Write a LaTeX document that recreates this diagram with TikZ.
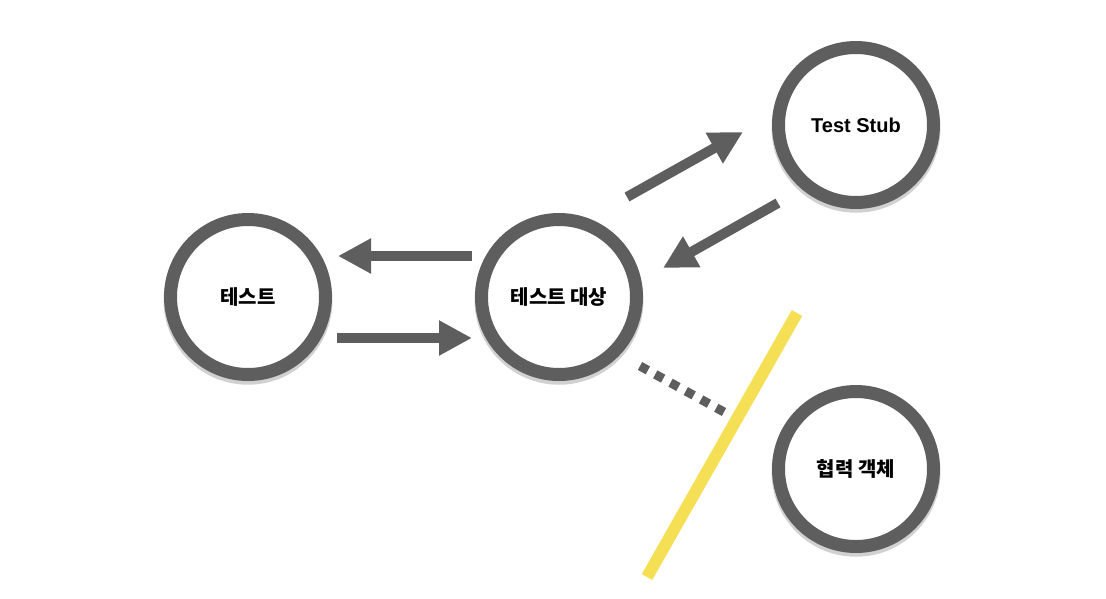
\documentclass[tikz,border=0pt]{standalone}
\usepackage{fontspec}
\setmainfont{Liberation Sans}
\newfontfamily\krfont{Noto Sans CJK KR}
\usetikzlibrary{arrows.meta,calc,shadows}
\definecolor{ringgray}{RGB}{94,94,94}
\definecolor{cutyellow}{RGB}{244,223,85}
\tikzset{
  obj/.style={circle, draw=ringgray, line width=13pt, fill=white,
    minimum size=155pt, inner sep=0pt,
    font=\bfseries\fontsize{20}{24}\selectfont,
    drop shadow={shadow xshift=0pt, shadow yshift=-3pt, shadow scale=1.09,
      opacity=.18, fill=black}},
  flow/.style={draw=ringgray, line width=10pt,
    -{Triangle[width=33pt,length=33pt]}},
  dots/.style={draw=ringgray, line width=9pt, dash pattern=on 9pt off 8.4pt},
  cut/.style={draw=cutyellow, line width=12pt}
}
\begin{document}
\begin{tikzpicture}[x=1pt,y=-1pt]
\useasboundingbox (0,0) rectangle (1106,598);
\node[obj] (test) at (248,297) {\krfont 테스트};
\node[obj] (dut) at (559,297) {\krfont 테스트 대상};
\node[obj] (stub) at (856,125) {Test Stub};
\node[obj] (coop) at (856,469) {\krfont 협력 객체};
\coordinate (cuttop) at (797,313);
\coordinate (cutbot) at (647,577);
\draw[flow] ([xshift=-3pt,yshift=41pt]dut.west) -- ([xshift=6pt,yshift=41pt]test.east);
\draw[flow] ([xshift=5pt,yshift=-41pt]test.east) -- ([xshift=-3pt,yshift=-41pt]dut.west);
\draw[flow] ($(dut)+(68,-100)$) -- ($(stub)+(-113,7)$);
\draw[flow] ($(stub)+(-78,78)$) -- ($(dut)+(104,-29)$);
\draw[dots] ($(dut)+(81,69)$) -- ($(dut)+(165,115)$);
\draw[cut] (cuttop) -- (cutbot);
\end{tikzpicture}
\end{document}
